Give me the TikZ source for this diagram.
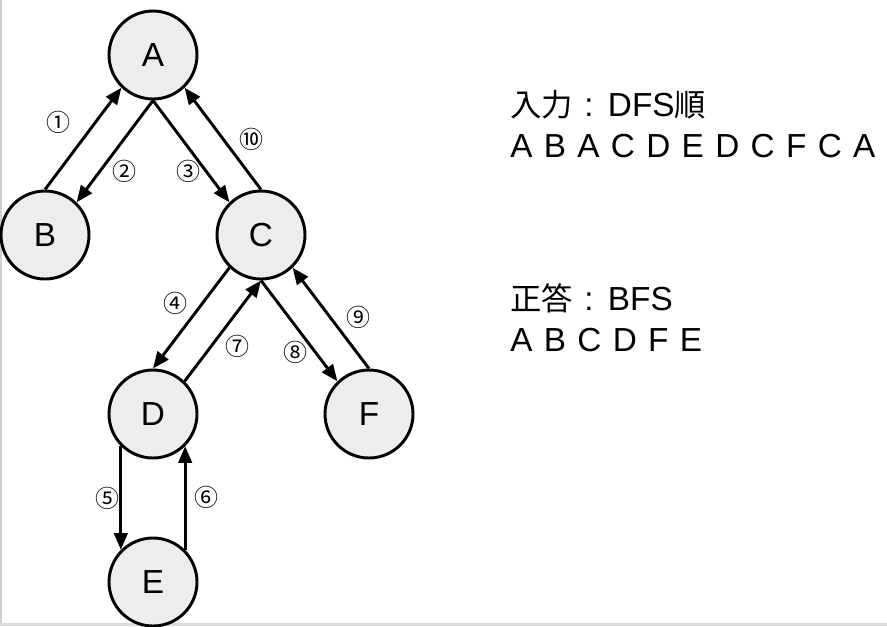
\documentclass[tikz,border=0pt]{standalone}
\usepackage{fontspec}
\setmainfont{Liberation Sans}
\newfontfamily\cjkfont{Noto Sans CJK JP}
\usetikzlibrary{arrows.meta}
\newcommand{\cj}[1]{{\cjkfont\fontsize{23.5}{26}\selectfont #1}}
\newcommand{\wideline}[1]{\spaceskip=0.34em\relax #1}
\begin{document}
\begin{tikzpicture}[x=0.75pt,y=-0.75pt,
  vert/.style={circle,draw=black,line width=2.2pt,fill=black!7,minimum size=88*0.75pt,inner sep=0pt,font=\fontsize{25}{28}\selectfont},
  edge/.style={line width=2.2pt,-{Triangle[length=12.5pt,width=10pt]}},
  num/.style={font=\cjkfont\fontsize{18}{20}\selectfont,inner sep=0pt},
  info/.style={anchor=base west,inner sep=0pt,font=\fontsize{25}{28}\selectfont}]
\useasboundingbox (0,0) rectangle (887,626);
\fill[white] (0,0) rectangle (887,626);
\fill[black!18] (0,0) rectangle (1.5,626);
\fill[black!14] (0,623) rectangle (887,626);

\node[vert] (A) at (153,55) {A};
\node[vert] (B) at (45,235) {B};
\node[vert] (C) at (261,235) {C};
\node[vert] (D) at (153,414) {D};
\node[vert] (F) at (369,414) {F};
\node[vert] (E) at (153,582) {E};

\draw[edge] (B.north) -- (A.-134);
\draw[edge] (A.south) -- (B.46);
\draw[edge] (A.south) -- (C.134);
\draw[edge] (C.north) -- (A.-46);
\draw[edge] (C.-134) -- (D.north);
\draw[edge] (D.46) -- (C.south);
\draw[edge] (C.south) -- (F.134);
\draw[edge] (F.north) -- (C.-46);
\draw[edge] (D.-135) -- (E.135);
\draw[edge] (E.45) -- (D.-45);

\node[num] (n1) at (58,122) {①};
\node[num] (n2) at (124,171) {②};
\node[num] (n3) at (188,171) {③};
\node[num] (n10) at (251,139) {⑩};
\node[num] (n4) at (175,303) {④};
\node[num] (n7) at (237,346) {⑦};
\node[num] (n8) at (295,352) {⑧};
\node[num] (n9) at (358,317) {⑨};
\node[num] (n5) at (107,498) {⑤};
\node[num] (n6) at (206,497) {⑥};

\node[info] (t1) at (510,116) {\wideline{\cj{入力} : DFS\cj{順}}};
\node[info] (t2) at (510,157) {\wideline{A B A C D E D C F C A}};
\node[info] (t3) at (510,310) {\wideline{\cj{正答} : BFS}};
\node[info] (t4) at (510,351) {\wideline{A B C D F E}};
\end{tikzpicture}
\end{document}
